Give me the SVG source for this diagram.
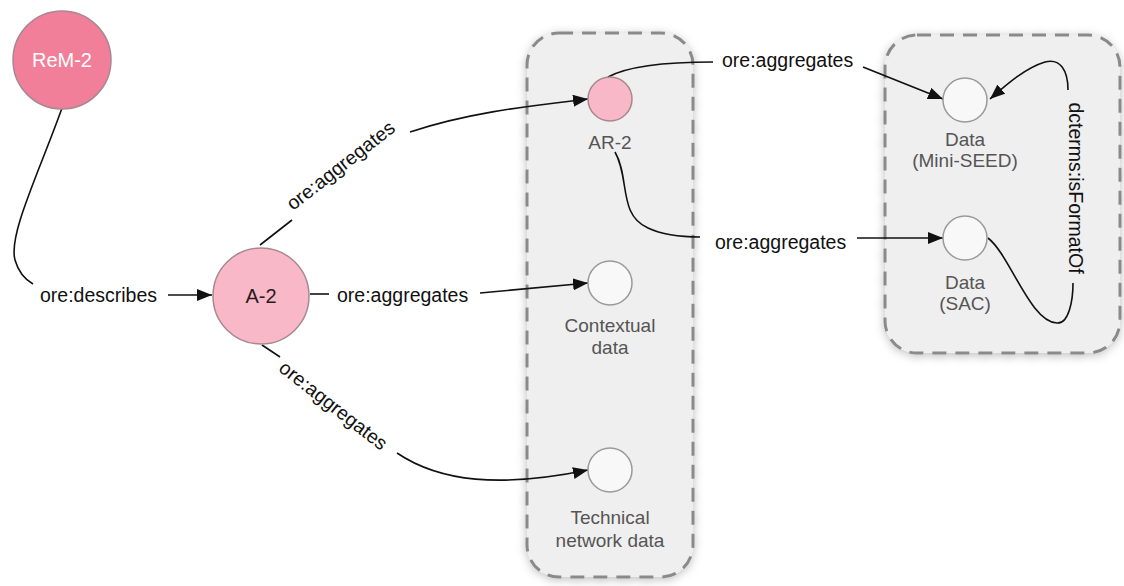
<svg xmlns="http://www.w3.org/2000/svg" width="1124" height="586" viewBox="0 0 1124 586">
<defs>
<style>
.lbl{font-family:"Liberation Sans",Arial,sans-serif;font-size:19.5px;fill:#111;}
.nl{font-family:"Liberation Sans",Arial,sans-serif;font-size:19px;fill:#555;text-anchor:middle;}
.e{fill:none;stroke:#111;stroke-width:1.6;}
.box{fill:#efefef;stroke:#8a8a8a;stroke-width:3;stroke-dasharray:14 9;filter:url(#sh);}
.w{fill:#f8f8f8;stroke:#9a9a9a;stroke-width:1.5;}
.pk{fill:#f9b8c8;stroke:#a88890;stroke-width:1.5;}
</style>
<filter id="sh" x="-20%" y="-20%" width="140%" height="140%">
<feDropShadow dx="0" dy="2" stdDeviation="5" flood-color="#000" flood-opacity="0.25"/>
</filter>
<marker id="arr" markerWidth="16" markerHeight="12" refX="15" refY="6" orient="auto" markerUnits="userSpaceOnUse">
<path d="M0,0 L15,6 L0,12 Z" fill="#111"/>
</marker>
</defs>
<rect width="1124" height="586" fill="#fff"/>
<g id="cluster-1"><rect class="box" x="527" y="33" width="166" height="544" rx="32"/></g>
<g id="cluster-2"><rect class="box" x="885" y="35" width="235" height="318" rx="32"/></g>
<g id="connectors">
<path class="e" d="M62,108 C40,170 8,235 15,260 C19,274 26,280 33,284"/>
<text class="lbl" x="40" y="302">ore:describes</text>
<path class="e" d="M168,295 L212,295" marker-end="url(#arr)"/>
<path class="e" d="M260,245 L292,220"/>
<text class="lbl" text-anchor="middle" transform="translate(341,166) rotate(-38)" x="0" y="6">ore:aggregates</text>
<path class="e" d="M410,132 C470,112 530,106 588,99" marker-end="url(#arr)"/>
<path class="e" d="M310,294 L329,294"/>
<text class="lbl" x="337" y="302">ore:aggregates</text>
<path class="e" d="M480,293 L588,283" marker-end="url(#arr)"/>
<path class="e" d="M262,345 L280,357"/>
<text class="lbl" text-anchor="middle" transform="translate(333,406) rotate(38)" x="0" y="6">ore:aggregates</text>
<path class="e" d="M397,453 C440,482 500,488 588,470" marker-end="url(#arr)"/>
<path class="e" d="M608,77 C630,65 670,62 713,62"/>
<text class="lbl" x="722" y="67">ore:aggregates</text>
<path class="e" d="M863,67 L943,99" marker-end="url(#arr)"/>
<path class="e" d="M615,152 C630,178 618,215 648,228 C665,236 685,237 700,237"/>
<text class="lbl" x="715" y="249">ore:aggregates</text>
<path class="e" d="M857,238 L943,238" marker-end="url(#arr)"/>
<path class="e" d="M988,238 C1010,255 1030,322 1057,323 C1069,324 1073,300 1073,283"/>
<text class="lbl" text-anchor="middle" transform="translate(1075,188) rotate(90)" x="0" y="6">dcterms:isFormatOf</text>
<path class="e" d="M1068,90 C1068,70 1060,58 1045,62 C1025,68 1006,85 990,99" marker-end="url(#arr)"/>
</g>
<g id="node-rem2"><circle cx="62" cy="60" r="49" fill="#f17f99" stroke="#a88890" stroke-width="1.5"/><text class="nl" x="62" y="67" style="fill:#fff;font-size:20px">ReM-2</text></g>
<g id="node-a2"><circle class="pk" cx="261" cy="296" r="48"/><text class="nl" x="261" y="303" style="fill:#2a1a1e;font-size:20px">A-2</text></g>
<g id="node-ar2"><circle class="pk" cx="610" cy="99" r="22"/><text class="nl" x="610" y="149">AR-2</text></g>
<g id="node-contextual"><circle class="w" cx="610" cy="283" r="22"/><text class="nl" x="610" y="332">Contextual</text><text class="nl" x="610" y="354">data</text></g>
<g id="node-technical"><circle class="w" cx="610" cy="470" r="22"/><text class="nl" x="610" y="524">Technical</text><text class="nl" x="610" y="547">network data</text></g>
<g id="node-miniseed"><circle class="w" cx="965" cy="100" r="22"/><text class="nl" x="965" y="146">Data</text><text class="nl" x="965" y="167">(Mini-SEED)</text></g>
<g id="node-sac"><circle class="w" cx="965" cy="238" r="22"/><text class="nl" x="965" y="289">Data</text><text class="nl" x="965" y="310">(SAC)</text></g>
</svg>
